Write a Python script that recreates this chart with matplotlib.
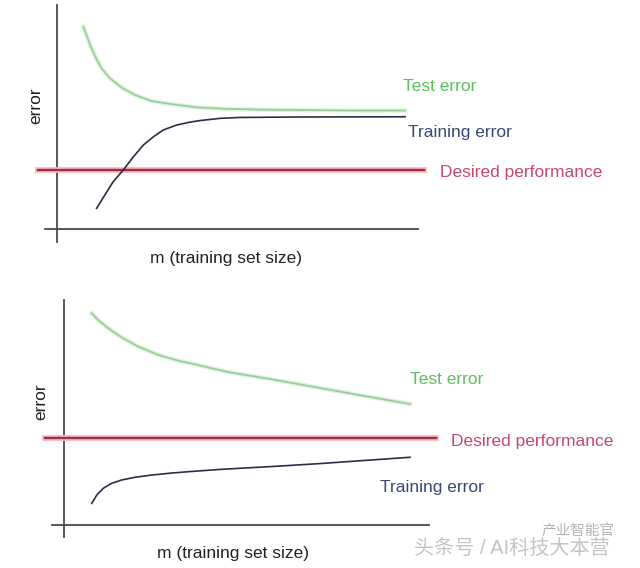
import matplotlib.pyplot as plt

plt.rcParams['font.family'] = ['Liberation Sans', 'Noto Sans CJK SC', 'DejaVu Sans']

# top panel: high bias (curves converge above desired performance)
top_test_m = [0.73, 0.82, 0.92, 1.06, 1.24, 1.47, 1.80, 2.17, 2.63, 3.19,
              3.88, 4.71, 5.64, 6.75, 8.14, 9.67]
top_test_err = [9.03, 8.66, 8.21, 7.70, 7.17, 6.73, 6.31, 5.98, 5.71, 5.57,
                5.43, 5.36, 5.33, 5.31, 5.29, 5.29]
top_train_m = [1.10, 1.33, 1.56, 1.84, 2.12, 2.40, 2.68, 2.95, 3.32, 3.69,
               3.97, 4.53, 5.08, 6.75, 9.67]
top_train_err = [0.92, 1.52, 2.11, 2.63, 3.22, 3.75, 4.12, 4.42, 4.64, 4.77,
                 4.84, 4.94, 4.98, 5.00, 5.01]
top_desired = 2.63

# bottom panel: high variance (big gap between curves)
bot_test_m = [0.77, 0.95, 1.23, 1.60, 2.06, 2.62, 3.18, 3.64, 4.50, 5.03,
              5.72, 7.11, 8.36, 9.61]
bot_test_err = [9.41, 9.11, 8.74, 8.34, 7.93, 7.56, 7.30, 7.14, 6.82, 6.67,
                6.49, 6.09, 5.73, 5.38]
bot_train_m = [0.77, 0.91, 1.09, 1.32, 1.60, 1.97, 2.44, 2.99, 3.55, 4.33,
               6.0, 7.11, 8.36, 9.61]
bot_train_err = [0.96, 1.33, 1.63, 1.85, 2.00, 2.12, 2.22, 2.31, 2.38, 2.47,
                 2.62, 2.73, 2.87, 3.01]
bot_desired = 3.85

test_color = '#9cc89c'
test_glow = '#dcf4dc'
train_color = '#2c2c48'
desired_color = '#a32e40'
desired_glow = '#f2bcc4'
axis_color = '#4a4a4a'

fig = plt.figure(figsize=(6.4, 5.68), dpi=100)


def draw_panel(ax, test_m, test_err, train_m, train_err, desired,
               hline_x, vline_y, desired_x, labels, ylab_x, xlab_y):
    ax.set_xlim(0, 10)
    ax.set_ylim(0, 10)
    ax.axis('off')
    # hand-drawn axes
    ax.plot(hline_x, [0, 0], color=axis_color, lw=1.3, clip_on=False)
    ax.plot([0, 0], vline_y, color=axis_color, lw=1.3, clip_on=False)
    # desired performance, with a soft pink halo
    ax.plot(desired_x, [desired, desired], color=desired_glow, lw=4.2, clip_on=False)
    ax.plot(desired_x, [desired, desired], color=desired_color, lw=1.7, clip_on=False)
    # curves
    ax.plot(test_m, test_err, color=test_glow, lw=3.2, clip_on=False,
            solid_joinstyle='round')
    ax.plot(test_m, test_err, color=test_color, lw=1.2, clip_on=False,
            solid_joinstyle='round')
    ax.plot(train_m, train_err, color=train_color, lw=1.2, clip_on=False,
            solid_joinstyle='round')
    for (x, y, s, c) in labels:
        ax.text(x, y, s, color=c, fontsize=12.5, va='center', ha='left', clip_on=False)
    ax.text(ylab_x, 5.5, 'error', rotation=90, fontsize=12.5, color='#222222',
            ha='center', va='center')
    ax.text(4.7, xlab_y, 'm (training set size)', fontsize=12.5, color='#222222',
            ha='center', va='center')


ax1 = fig.add_axes([57 / 640, 1 - 229 / 568, 360 / 640, 224 / 568])
draw_panel(ax1, top_test_m, top_test_err, top_train_m, top_train_err, top_desired,
           [-0.33, 10.03], [-0.58, 10.0], [-0.53, 10.19],
           [(9.61, 6.38, 'Test error', '#5fbf5f'),
            (9.75, 4.33, 'Training error', '#3a4878'),
            (10.64, 2.54, 'Desired performance', '#c8486a')],
           -0.6, -1.3)

ax2 = fig.add_axes([64 / 640, 1 - 525 / 568, 360 / 640, 225 / 568])
draw_panel(ax2, bot_test_m, bot_test_err, bot_train_m, bot_train_err, bot_desired,
           [-0.34, 10.14], [-0.53, 10.0], [-0.53, 10.33],
           [(9.61, 6.45, 'Test error', '#5fbf5f'),
            (8.78, 1.66, 'Training error', '#3a4878'),
            (10.75, 3.7, 'Desired performance', '#c8486a')],
           -0.65, -1.25)

# watermark
fig.text(414 / 640, 1 - 549 / 568, '头条号 / AI科技大本营', fontsize=14.5,
         color='#c4c4c4', ha='left', va='center')
fig.text(541 / 640, 1 - 531 / 568, '产业智能官', fontsize=10.5,
         color='#b4b4b4', ha='left', va='center')

fig.savefig('out.png', dpi=100, facecolor='white')
